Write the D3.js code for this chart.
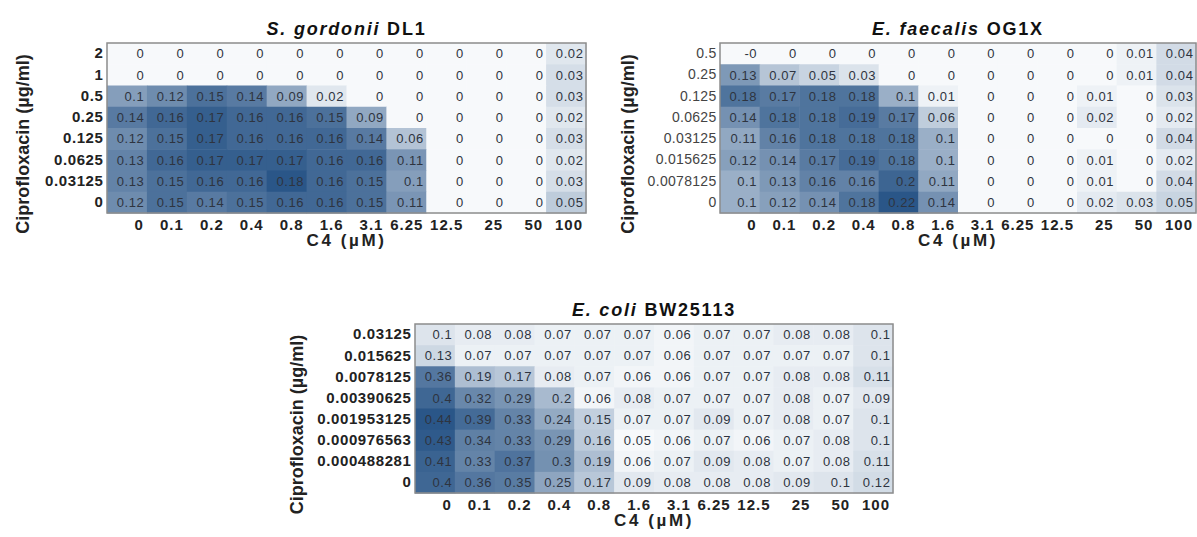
<!DOCTYPE html>
<html>
<head>
<meta charset="utf-8">
<script src="https://cdn.jsdelivr.net/npm/d3@7"></script>
<style>
  html, body { margin: 0; padding: 0; background: #fff; }
  svg { display: block; font-family: "Liberation Sans", Arial, sans-serif; }
</style>
</head>
<body>
<svg id="chart" width="1197" height="537"></svg>
<script>
// C4 concentrations (µM), shared by all three checkerboards
const c4Doses = ["0", "0.1", "0.2", "0.4", "0.8", "1.6", "3.1", "6.25", "12.5", "25", "50", "100"];

// S. gordonii DL1 — ciprofloxacin (µg/ml), top row first
const gordoniiCipro = ["2", "1", "0.5", "0.25", "0.125", "0.0625", "0.03125", "0"];
const gordoniiValues = [
  [0, 0, 0, 0, 0, 0, 0, 0, 0, 0, 0, 0.02],
  [0, 0, 0, 0, 0, 0, 0, 0, 0, 0, 0, 0.03],
  [0.1, 0.12, 0.15, 0.14, 0.09, 0.02, 0, 0, 0, 0, 0, 0.03],
  [0.14, 0.16, 0.17, 0.16, 0.16, 0.15, 0.09, 0, 0, 0, 0, 0.02],
  [0.12, 0.15, 0.17, 0.16, 0.16, 0.16, 0.14, 0.06, 0, 0, 0, 0.03],
  [0.13, 0.16, 0.17, 0.17, 0.17, 0.16, 0.16, 0.11, 0, 0, 0, 0.02],
  [0.13, 0.15, 0.16, 0.16, 0.18, 0.16, 0.15, 0.1, 0, 0, 0, 0.03],
  [0.12, 0.15, 0.14, 0.15, 0.16, 0.16, 0.15, 0.11, 0, 0, 0, 0.05]
];

// E. faecalis OG1X
const faecalisCipro = ["0.5", "0.25", "0.125", "0.0625", "0.03125", "0.015625", "0.0078125", "0"];
const faecalisValues = [
  [-0, 0, 0, 0, 0, 0, 0, 0, 0, 0, 0.01, 0.04],
  [0.13, 0.07, 0.05, 0.03, 0, 0, 0, 0, 0, 0, 0.01, 0.04],
  [0.18, 0.17, 0.18, 0.18, 0.1, 0.01, 0, 0, 0, 0.01, 0, 0.03],
  [0.14, 0.18, 0.18, 0.19, 0.17, 0.06, 0, 0, 0, 0.02, 0, 0.02],
  [0.11, 0.16, 0.18, 0.18, 0.18, 0.1, 0, 0, 0, 0, 0, 0.04],
  [0.12, 0.14, 0.17, 0.19, 0.18, 0.1, 0, 0, 0, 0.01, 0, 0.02],
  [0.1, 0.13, 0.16, 0.16, 0.2, 0.11, 0, 0, 0, 0.01, 0, 0.04],
  [0.1, 0.12, 0.14, 0.18, 0.22, 0.14, 0, 0, 0, 0.02, 0.03, 0.05]
];

// E. coli BW25113
const coliCipro = ["0.03125", "0.015625", "0.0078125", "0.00390625", "0.001953125", "0.000976563", "0.000488281", "0"];
const coliValues = [
  [0.1, 0.08, 0.08, 0.07, 0.07, 0.07, 0.06, 0.07, 0.07, 0.08, 0.08, 0.1],
  [0.13, 0.07, 0.07, 0.07, 0.07, 0.07, 0.06, 0.07, 0.07, 0.07, 0.07, 0.1],
  [0.36, 0.19, 0.17, 0.08, 0.07, 0.06, 0.06, 0.07, 0.07, 0.08, 0.08, 0.11],
  [0.4, 0.32, 0.29, 0.2, 0.06, 0.08, 0.07, 0.07, 0.07, 0.08, 0.07, 0.09],
  [0.44, 0.39, 0.33, 0.24, 0.15, 0.07, 0.07, 0.09, 0.07, 0.08, 0.07, 0.1],
  [0.43, 0.34, 0.33, 0.29, 0.16, 0.05, 0.06, 0.07, 0.06, 0.07, 0.08, 0.1],
  [0.41, 0.33, 0.37, 0.3, 0.19, 0.06, 0.07, 0.09, 0.08, 0.07, 0.08, 0.11],
  [0.4, 0.36, 0.35, 0.25, 0.17, 0.09, 0.08, 0.08, 0.08, 0.09, 0.1, 0.12]
];

const panels = [
  { italic: "S. gordonii", strain: " DL1", rows: gordoniiCipro, values: gordoniiValues,
    box: [107, 43, 586, 213], yTitleX: 23, yTickWeight: "bold" },
  { italic: "E. faecalis", strain: " OG1X", rows: faecalisCipro, values: faecalisValues,
    box: [720, 43, 1196, 213], yTitleX: 628, yTickWeight: "normal" },
  { italic: "E. coli", strain: " BW25113", rows: coliCipro, values: coliValues,
    box: [415, 324, 893, 493], yTitleX: 297, yTickWeight: "bold" }
];

const svg = d3.select("#chart");

const fmt = v => (Object.is(v, -0) ? "-0" : String(v));

panels.forEach(p => {
  const [x0, y0, x1, y1] = p.box;
  const g = svg.append("g");

  const x = d3.scaleBand().domain(c4Doses).range([x0, x1]);
  const y = d3.scaleBand().domain(p.rows).range([y0, y1]);

  const flat = p.values.flat();
  const color = d3.scaleLinear()
    .domain([d3.min(flat), d3.max(flat)])
    .range(["#f7f9fb", "#2a5688"])
    .interpolate(d3.interpolateRgb)
    .clamp(true);

  const cells = [];
  p.values.forEach((row, i) => row.forEach((v, j) => cells.push({ r: p.rows[i], c: c4Doses[j], v })));

  g.selectAll("rect.cell").data(cells).join("rect")
    .attr("class", "cell")
    .attr("x", d => x(d.c))
    .attr("y", d => y(d.r))
    .attr("width", x.bandwidth() + 0.5)
    .attr("height", y.bandwidth() + 0.5)
    .attr("fill", d => color(d.v));

  g.selectAll("text.val").data(cells).join("text")
    .attr("class", "val")
    .attr("x", d => x(d.c) + x.bandwidth() - 2.5)
    .attr("y", d => y(d.r) + y.bandwidth() / 2)
    .attr("dy", "0.36em")
    .attr("text-anchor", "end")
    .attr("font-size", 13)
    .attr("letter-spacing", 0.6)
    .attr("fill", "#2e3440")
    .text(d => fmt(d.v));

  // plot frame
  g.append("rect")
    .attr("x", x0).attr("y", y0)
    .attr("width", x1 - x0).attr("height", y1 - y0)
    .attr("fill", "none")
    .attr("stroke", "#8c8c8c")
    .attr("stroke-width", 1.5);

  // C4 axis
  const xAxis = g.append("g")
    .attr("transform", `translate(0,${y1})`)
    .call(d3.axisBottom(x).tickSize(0).tickPadding(6));
  xAxis.select(".domain").remove();
  xAxis.selectAll("text")
    .attr("x", x.bandwidth() / 2 - 3)
    .attr("text-anchor", "end")
    .attr("font-size", 15)
    .attr("letter-spacing", 1)
    .attr("font-weight", "bold")
    .attr("font-family", "Liberation Sans, Arial, sans-serif")
    .attr("fill", "#222");

  // ciprofloxacin axis
  const bold = p.yTickWeight === "bold";
  const yAxis = g.append("g")
    .attr("transform", `translate(${x0},0)`)
    .call(d3.axisLeft(y).tickSize(0).tickPadding(3.5));
  yAxis.select(".domain").remove();
  yAxis.selectAll("text")
    .attr("font-size", bold ? 15 : 14)
    .attr("letter-spacing", bold ? 0.6 : 0.3)
    .attr("font-weight", p.yTickWeight)
    .attr("font-family", "Liberation Sans, Arial, sans-serif")
    .attr("fill", bold ? "#222" : "#444");

  // titles
  const t = g.append("text")
    .attr("x", (x0 + x1) / 2)
    .attr("y", y0 - 8.5)
    .attr("text-anchor", "middle")
    .attr("font-size", 18)
    .attr("letter-spacing", 1.8)
    .attr("font-weight", "bold")
    .attr("fill", "#111");
  t.append("tspan").attr("font-style", "italic").text(p.italic);
  t.append("tspan").text(p.strain);

  g.append("text")
    .attr("x", (x0 + x1) / 2)
    .attr("y", y1 + 33)
    .attr("text-anchor", "middle")
    .attr("font-size", 17)
    .attr("letter-spacing", 2.6)
    .attr("font-weight", "bold")
    .attr("fill", "#222")
    .text("C4 (µM)");

  g.append("text")
    .attr("transform", `translate(${p.yTitleX},${(y0 + y1) / 2 + 16}) rotate(-90)`)
    .attr("dy", "0.35em")
    .attr("text-anchor", "middle")
    .attr("font-size", 18)
    .attr("font-weight", "bold")
    .attr("fill", "#222")
    .text("Ciprofloxacin (µg/ml)");
});
</script>
</body>
</html>
